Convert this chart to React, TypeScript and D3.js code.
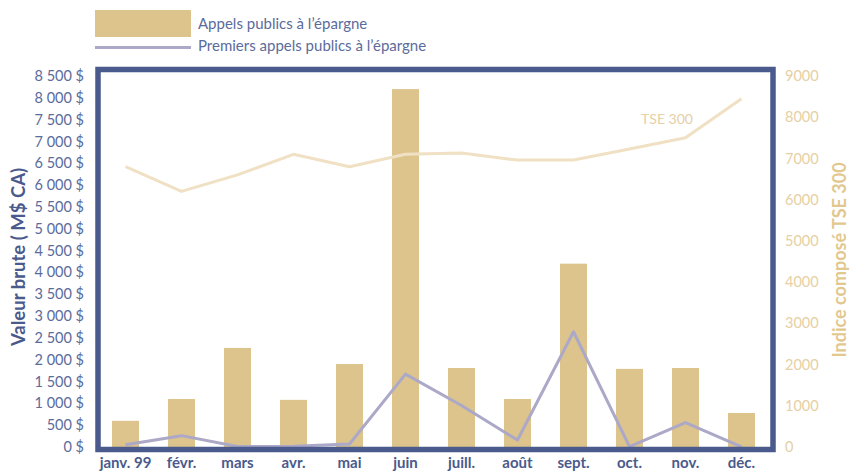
import React from "react";
import * as d3 from "d3";

const months = ["janv. 99", "févr.", "mars", "avr.", "mai", "juin", "juill.", "août", "sept.", "oct.", "nov.", "déc."];
const appels = [600, 1100, 2270, 1080, 1900, 8200, 1810, 1100, 4200, 1790, 1810, 780];
const premiers = [50, 260, 10, 20, 70, 1670, 950, 160, 2640, 10, 560, 5];
const tse = [6800, 6200, 6600, 7100, 6800, 7100, 7130, 6960, 6960, 7230, 7500, 8450];
const leftTicks = d3.range(0, 8501, 500);
const rightTicks = d3.range(0, 9001, 1000);

const NAVY = "#4a5a8c";
const BAR = "#dcc48c";
const PURPLE = "#aba8c8";
const TSE_LINE = "#f0e0c4";
const TAN_TEXT = "#e6d0a4";
const TICK_BLUE = "#5b6b9b";
const FONT = "Lato, 'Open Sans', sans-serif";

export default function App() {
  const W = 851, H = 472;
  const x = d3.scaleBand<string>().domain(months).range([97.5, 769.5]).padding(0);
  const yL = d3.scaleLinear().domain([0, 8500]).range([447, 76]);
  const yR = d3.scaleLinear().domain([0, 9000]).range([447, 76]);
  const barW = 27;
  const cx = (m: string) => (x(m) as number) + x.bandwidth() / 2;

  const linePrem = d3.line<number>().x((_, i) => cx(months[i])).y((d) => yL(d));
  const lineTse = d3.line<number>().x((_, i) => cx(months[i])).y((d) => yR(d));
  const fmt = (v: number) => {
    const s = v >= 1000 ? `${Math.floor(v / 1000)} ${String(v % 1000).padStart(3, "0")}` : `${v}`;
    return `${s} $`;
  };

  return (
    <svg width={W} height={H} style={{ display: "block", position: "absolute", left: 0, top: 0 }} fontFamily={FONT}>
      {/* legend */}
      <rect x={95} y={10} width={96} height={27} fill={BAR} />
      <text x={198} y={29} fontSize={15} fill={TICK_BLUE}>Appels publics à l’épargne</text>
      <line x1={95} x2={191} y1={47.5} y2={47.5} stroke={PURPLE} strokeWidth={3} />
      <text x={198} y={51} fontSize={15} fill={TICK_BLUE}>Premiers appels publics à l’épargne</text>

      {/* bars */}
      {appels.map((v, i) => (
        <rect key={i} x={cx(months[i]) - barW / 2} y={yL(v)} width={barW} height={yL(0) - yL(v)} fill={BAR} />
      ))}

      {/* TSE line */}
      <path d={lineTse(tse) || ""} fill="none" stroke={TSE_LINE} strokeWidth={3} strokeLinejoin="round" />
      <text x={667} y={124} fontSize={14} textAnchor="middle" fill={TAN_TEXT}>TSE 300</text>

      {/* premiers line */}
      <path d={linePrem(premiers) || ""} fill="none" stroke={PURPLE} strokeWidth={3} strokeLinejoin="round" />

      {/* frame */}
      <rect x={98} y={69.5} width={675} height={380} fill="none" stroke={NAVY} strokeWidth={5.5} />

      {/* left ticks */}
      {leftTicks.map((t) => (
        <text key={t} x={84} y={yL(t)} dy="0.35em" textAnchor="end" fontSize={14.5} fill={TICK_BLUE}>{fmt(t)}</text>
      ))}
      {/* right ticks */}
      {rightTicks.map((t) => (
        <text key={t} x={785} y={yR(t)} dy="0.35em" textAnchor="start" fontSize={14.5} fill={TAN_TEXT}>{t}</text>
      ))}

      {/* month labels */}
      {months.map((m) => (
        <text key={m} x={cx(m)} y={468} textAnchor="middle" fontSize={15} fontWeight="bold" fill={NAVY}>{m}</text>
      ))}

      {/* axis titles */}
      <text transform="translate(25,257) rotate(-90)" textAnchor="middle" fontSize={18.5} fontWeight="bold" fill={NAVY}>Valeur brute ( M$ CA)</text>
      <text transform="translate(846,260) rotate(-90)" textAnchor="middle" fontSize={18} fontWeight="bold" fill="#e2c88e">Indice composé TSE 300</text>
    </svg>
  );
}
